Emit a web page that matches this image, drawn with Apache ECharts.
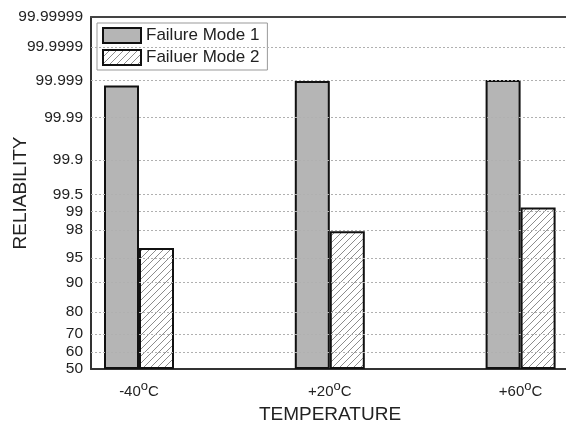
<!DOCTYPE html>
<html>
<head>
<meta charset="utf-8">
<script src="https://cdn.jsdelivr.net/npm/echarts@6/dist/echarts.min.js"></script>
<style>
  html, body { margin: 0; padding: 0; background: #fff; }
  #chart { width: 566px; height: 423px; }
</style>
</head>
<body>
<div id="chart"></div>
<script>
// Reliability (%) per temperature for each failure mode
const temperatures = ['-40', '+20', '+60'];
const seriesNames = ['Failure Mode 1', 'Failuer Mode 2'];
const failureMode1 = [99.9986, 99.99895, 99.99902];
const failureMode2 = [96.3, 97.9, 99.15];
const reliabilityTicks = ['50', '60', '70', '80', '90', '95', '98', '99', '99.5',
                          '99.9', '99.99', '99.999', '99.9999', '99.99999'];

// Inverse standard normal CDF (Acklam's rational approximation)
function probit(p) {
  const a = [-3.969683028665376e+01, 2.209460984245205e+02, -2.759285104469687e+02,
             1.383577518672690e+02, -3.066479806614716e+01, 2.506628277459239e+00];
  const b = [-5.447609879822406e+01, 1.615858368580409e+02, -1.556989798598866e+02,
             6.680131188771972e+01, -1.328068155288572e+01];
  const c = [-7.784894002430293e-03, -3.223964580411365e-01, -2.400758277161838e+00,
             -2.549671010241583e+00, 4.374664141464968e+00, 2.938163982698783e+00];
  const d = [7.784695709041462e-03, 3.224671290700398e-01, 2.445134137142996e+00,
             3.754408661907416e+00];
  const plow = 0.02425;
  if (p < plow) {
    const q = Math.sqrt(-2 * Math.log(p));
    return (((((c[0]*q+c[1])*q+c[2])*q+c[3])*q+c[4])*q+c[5]) /
           ((((d[0]*q+d[1])*q+d[2])*q+d[3])*q+1);
  }
  if (p <= 1 - plow) {
    const q = p - 0.5, r = q * q;
    return (((((a[0]*r+a[1])*r+a[2])*r+a[3])*r+a[4])*r+a[5])*q /
           (((((b[0]*r+b[1])*r+b[2])*r+b[3])*r+b[4])*r+1);
  }
  return -probit(1 - p);
}

// Normal probability scale: position = z-score of the reliability
function toZ(percent) {
  const v = typeof percent === 'string' ? parseFloat(percent) : percent;
  return -probit((100 - v) / 100);
}

const tickZ = reliabilityTicks.map(toZ);
const zMin = tickZ[0];
const zMax = tickZ[tickZ.length - 1];

// Diagonal hatch fill for the second failure mode
function hatchPattern() {
  const s = 7;
  const cv = document.createElement('canvas');
  cv.width = s; cv.height = s;
  const ctx = cv.getContext('2d');
  ctx.fillStyle = '#fff';
  ctx.fillRect(0, 0, s, s);
  ctx.strokeStyle = '#8c8c8c';
  ctx.lineWidth = 1;
  ctx.beginPath();
  ctx.moveTo(-1, s + 1); ctx.lineTo(s + 1, -1);
  ctx.moveTo(-1, 1); ctx.lineTo(1, -1);
  ctx.moveTo(s - 1, s + 1); ctx.lineTo(s + 1, s - 1);
  ctx.stroke();
  return cv;
}

const fontFamily = '"Liberation Sans", Arial, sans-serif';
const textColor = '#222';
const chart = echarts.init(document.getElementById('chart'), null, { renderer: 'canvas' });

const frameLine = { show: true, lineStyle: { color: '#333', width: 2 } };
const hidden = { show: false };

chart.setOption({
  animation: false,
  backgroundColor: '#fff',
  textStyle: { fontFamily: fontFamily },
  grid: [
    // plot frame: axes, gridlines, tick labels
    { left: 91, width: 478, top: 17, bottom: 54, containLabel: false, outerBoundsMode: 'none' },
    // bar layout: categories spread across a wider band so the frame clips the right edge
    { left: 43.6, width: 572.4, top: 17, bottom: 54, containLabel: false, outerBoundsMode: 'none' }
  ],
  legend: {
    data: seriesNames,
    orient: 'vertical',
    left: 97,
    top: 23,
    padding: [4, 8, 4, 5],
    itemWidth: 38,
    itemHeight: 15,
    itemGap: 5,
    icon: 'rect',
    backgroundColor: '#fff',
    borderColor: '#999',
    borderWidth: 1,
    textStyle: { fontSize: 17, color: textColor, fontFamily: fontFamily, lineHeight: 16 }
  },
  xAxis: [
    {
      gridIndex: 0,
      type: 'value',
      min: 0,
      max: 1,
      position: 'bottom',
      name: 'TEMPERATURE',
      nameLocation: 'middle',
      nameGap: 36,
      nameMoveOverlap: false,
      nameTextStyle: { fontSize: 19, color: textColor, fontFamily: fontFamily },
      axisLine: frameLine,
      axisTick: hidden,
      axisLabel: hidden,
      splitLine: hidden
    },
    {
      gridIndex: 0,
      type: 'value',
      min: 0,
      max: 1,
      position: 'top',
      axisLine: { show: true, lineStyle: { color: '#444', width: 2 } },
      axisTick: hidden,
      axisLabel: hidden,
      splitLine: hidden
    },
    {
      gridIndex: 1,
      type: 'category',
      data: temperatures,
      position: 'bottom',
      axisLine: hidden,
      axisTick: hidden,
      splitLine: hidden,
      axisLabel: {
        margin: 11,
        fontSize: 15,
        color: textColor,
        fontFamily: fontFamily,
        formatter: v => v + '{deg|o}C',
        rich: { deg: { fontSize: 13, color: textColor, padding: [0, 0, 10, 0], fontFamily: fontFamily } }
      }
    }
  ],
  yAxis: [
    {
      gridIndex: 0,
      type: 'value',
      min: zMin,
      max: zMax,
      name: 'RELIABILITY',
      nameLocation: 'middle',
      nameGap: 61,
      nameMoveOverlap: false,
      nameTextStyle: { fontSize: 19, color: textColor, fontFamily: fontFamily },
      axisLine: Object.assign({ onZero: false }, frameLine),
      axisTick: hidden,
      splitLine: hidden,
      axisLabel: {
        customValues: tickZ,
        margin: 8,
        fontSize: 15.5,
        color: textColor,
        fontFamily: fontFamily,
        formatter: v => {
          const i = tickZ.findIndex(z => Math.abs(z - v) < 1e-6);
          return i >= 0 ? reliabilityTicks[i] : '';
        }
      }
    },
    {
      gridIndex: 1,
      type: 'value',
      min: zMin,
      max: zMax,
      axisLine: hidden,
      axisTick: hidden,
      axisLabel: hidden,
      splitLine: hidden
    }
  ],
  series: [
    {
      // dashed horizontal gridlines at each reliability tick
      type: 'line',
      xAxisIndex: 0,
      yAxisIndex: 0,
      data: [],
      silent: true,
      z: 1,
      markLine: {
        silent: true,
        symbol: ['none', 'none'],
        label: { show: false },
        lineStyle: { type: [2, 2], color: '#b0b0b0', width: 1 },
        data: tickZ.slice(1, -1).map(z => ({ yAxis: z }))
      }
    },
    {
      name: seriesNames[0],
      type: 'bar',
      xAxisIndex: 2,
      yAxisIndex: 1,
      z: 3,
      barWidth: 35,
      barGap: '0%',
      itemStyle: { color: '#b5b5b5', borderColor: '#111', borderWidth: 2 },
      data: failureMode1.map(toZ)
    },
    {
      name: seriesNames[1],
      type: 'bar',
      xAxisIndex: 2,
      yAxisIndex: 1,
      z: 3,
      barWidth: 35,
      barGap: '0%',
      itemStyle: {
        color: { image: hatchPattern(), repeat: 'repeat' },
        borderColor: '#111',
        borderWidth: 2
      },
      data: failureMode2.map(toZ)
    }
  ]
});
</script>
</body>
</html>
